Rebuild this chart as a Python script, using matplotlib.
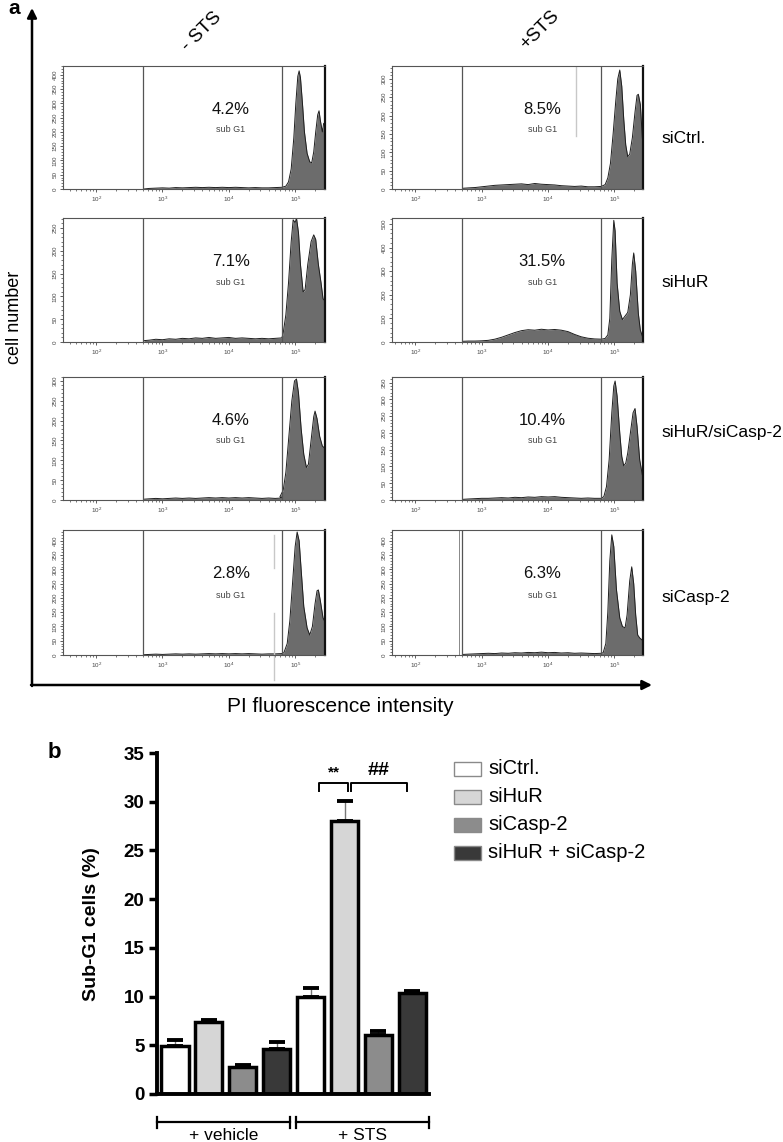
import numpy as np
import matplotlib.pyplot as plt
from matplotlib.patches import Rectangle
from matplotlib.ticker import MultipleLocator, LogLocator, NullFormatter, FixedLocator, FixedFormatter

plt.rcParams['font.family'] = ['Liberation Sans', 'DejaVu Sans']
plt.rcParams['mathtext.fontset'] = 'custom'
plt.rcParams['mathtext.rm'] = 'Liberation Sans'

W, H = 783, 1142

# ---- panel a: PI histograms (log10 intensity, cell count) ----
bg_x = [2.72, 2.8, 2.9, 3.0, 3.1, 3.2, 3.3, 3.4, 3.5, 3.6, 3.7, 3.8, 3.9, 4.0, 4.1, 4.2,
        4.3, 4.4, 4.5, 4.6, 4.7, 4.8]

ctrl_veh_bg = [0, 2, 3, 4, 3, 5, 4, 5, 6, 5, 6, 5, 6, 5, 6, 5, 4, 5, 4, 4, 5, 6]
ctrl_veh_px = [4.86, 4.9, 4.94, 4.98, 5.01, 5.04, 5.06, 5.08, 5.11, 5.14, 5.18, 5.22, 5.25,
               5.28, 5.31, 5.34, 5.36, 5.38, 5.41, 5.43, 5.45]
ctrl_veh_py = [10, 25, 70, 180, 300, 395, 414, 390, 300, 200, 125, 95, 92, 130, 200, 260,
               274, 240, 200, 230, 230]

ctrl_sts_bg = [2, 3, 4, 6, 8, 10, 11, 12, 13, 14, 12, 15, 13, 12, 11, 9, 8, 7, 8, 6, 6, 7]
ctrl_sts_px = [4.86, 4.9, 4.94, 4.98, 5.02, 5.05, 5.08, 5.11, 5.14, 5.17, 5.2, 5.23, 5.27,
               5.31, 5.34, 5.36, 5.39, 5.42, 5.43]
ctrl_sts_py = [12, 30, 70, 150, 240, 300, 324, 280, 190, 120, 88, 95, 140, 210, 255, 258,
               230, 140, 120]

hur_veh_bg = [3, 4, 6, 5, 7, 6, 8, 7, 9, 8, 10, 8, 9, 10, 8, 9, 8, 7, 8, 7, 8, 9]
hur_veh_px = [4.82, 4.86, 4.9, 4.94, 4.97, 5.0, 5.02, 5.05, 5.08, 5.12, 5.15, 5.19, 5.24,
              5.28, 5.31, 5.35, 5.39, 5.42, 5.45]
hur_veh_py = [20, 60, 130, 220, 268, 262, 272, 240, 170, 110, 115, 170, 220, 235, 225, 170,
              130, 95, 90]

hur_sts_bg = [3, 4, 4, 5, 7, 12, 20, 30, 40, 48, 52, 50, 54, 51, 53, 50, 44, 32, 22, 16, 13, 12]
hur_sts_px = [4.86, 4.9, 4.93, 4.96, 4.99, 5.01, 5.04, 5.08, 5.12, 5.16, 5.2, 5.24, 5.27,
              5.29, 5.32, 5.36, 5.39, 5.42]
hur_sts_py = [15, 30, 100, 350, 515, 470, 250, 130, 95, 110, 125, 200, 330, 377, 300, 120,
              50, 25]

hc_veh_bg = [2, 3, 4, 3, 4, 5, 4, 5, 4, 5, 6, 5, 6, 5, 6, 5, 6, 5, 4, 5, 4, 5]
hc_veh_px = [4.77, 4.82, 4.86, 4.9, 4.95, 4.99, 5.02, 5.05, 5.09, 5.13, 5.17, 5.2, 5.24,
             5.28, 5.3, 5.33, 5.37, 5.41, 5.45]
hc_veh_py = [8, 25, 70, 150, 250, 300, 305, 270, 180, 115, 82, 90, 150, 210, 224, 205,
             160, 136, 130]

hc_sts_bg = [2, 3, 4, 5, 5, 6, 7, 6, 8, 7, 9, 8, 10, 9, 10, 8, 7, 6, 5, 6, 5, 5]
hc_sts_px = [4.84, 4.88, 4.92, 4.96, 4.99, 5.01, 5.04, 5.08, 5.11, 5.14, 5.17, 5.2, 5.24,
             5.28, 5.31, 5.34, 5.38, 5.42, 5.45]
hc_sts_py = [10, 40, 120, 260, 340, 355, 310, 200, 130, 102, 110, 140, 200, 260, 273, 220,
             120, 75, 60]

casp_veh_bg = [1, 2, 3, 2, 3, 4, 3, 4, 3, 4, 5, 4, 5, 4, 5, 4, 5, 4, 3, 4, 4, 5]
casp_veh_px = [4.83, 4.88, 4.92, 4.96, 5.0, 5.03, 5.06, 5.09, 5.13, 5.18, 5.22, 5.26, 5.3,
               5.33, 5.35, 5.38, 5.42, 5.45]
casp_veh_py = [8, 40, 120, 250, 380, 431, 400, 300, 170, 95, 70, 100, 180, 225, 228, 190,
               130, 116]

casp_sts_bg = [2, 3, 4, 5, 6, 5, 7, 6, 8, 7, 9, 8, 10, 8, 9, 7, 8, 6, 7, 6, 5, 6]
casp_sts_px = [4.83, 4.87, 4.9, 4.93, 4.96, 4.99, 5.03, 5.08, 5.12, 5.16, 5.19, 5.23, 5.26,
               5.29, 5.32, 5.35, 5.38, 5.43]
casp_sts_py = [8, 40, 150, 330, 421, 380, 230, 130, 100, 95, 140, 260, 309, 250, 140, 70,
               60, 50]

row_labels = ['siCtrl.', 'siHuR', 'siHuR/siCasp-2', 'siCasp-2']
pct_veh = ['4.2%', '7.1%', '4.6%', '2.8%']
pct_sts = ['8.5%', '31.5%', '10.4%', '6.3%']
ymax_veh = [431, 272, 310, 438]
ymax_sts = [335, 525, 367, 438]
ystep_veh = [50, 50, 50, 50]
ystep_sts = [50, 100, 50, 50]
gate_lo, gate_hi = 2.71, 4.80

# ---- panel b: sub-G1 bar chart ----
groups = ['+ vehicle', '+ STS']
sirnas = ['siCtrl.', 'siHuR', 'siCasp-2', 'siHuR + siCasp-2']
vehicle_mean = [4.9, 7.4, 2.8, 4.6]
vehicle_err = [0.6, 0.2, 0.15, 0.7]
sts_mean = [10.0, 28.0, 6.1, 10.4]
sts_err = [0.9, 2.1, 0.4, 0.2]
bar_colors = ['#ffffff', '#d6d6d6', '#8c8c8c', '#393939']


def px_rect(x0, y0, x1, y1):
    return [x0 / W, 1 - y1 / H, (x1 - x0) / W, (y1 - y0) / H]


fig = plt.figure(figsize=(W / 100, H / 100), dpi=100)

# overlay in pixel coords for figure-level annotations
ov = fig.add_axes([0, 0, 1, 1])
ov.set_xlim(0, W)
ov.set_ylim(H, 0)
ov.axis('off')

hists = [
    [(ctrl_veh_bg, ctrl_veh_px, ctrl_veh_py), (ctrl_sts_bg, ctrl_sts_px, ctrl_sts_py)],
    [(hur_veh_bg, hur_veh_px, hur_veh_py), (hur_sts_bg, hur_sts_px, hur_sts_py)],
    [(hc_veh_bg, hc_veh_px, hc_veh_py), (hc_sts_bg, hc_sts_px, hc_sts_py)],
    [(casp_veh_bg, casp_veh_px, casp_veh_py), (casp_sts_bg, casp_sts_px, casp_sts_py)],
]
row_px = [(66, 189), (218, 342), (377, 500), (530, 655)]
col_px = [(63, 325), (392, 643)]
col_xlim = [(10 ** 1.5, 10 ** 5.45), (10 ** 1.65, 10 ** 5.43)]
label_yfrac = [0.41, 0.48, 0.55, 0.46]

for r in range(4):
    for c in range(2):
        bg, px, py = hists[r][c]
        x = np.power(10.0, np.array(bg_x + px))
        y = np.array(bg + py)
        ax = fig.add_axes(px_rect(col_px[c][0], row_px[r][0], col_px[c][1], row_px[r][1]))
        ax.fill_between(x, y, color='#6c6c6c', lw=0)
        ax.plot(x, y, color='#1e1e1e', lw=0.7)
        ax.set_xscale('log')
        ax.set_xlim(*col_xlim[c])
        ymax = [ymax_veh, ymax_sts][c][r]
        step = [ystep_veh, ystep_sts][c][r]
        ax.set_ylim(0, ymax)
        ax.axvline(10 ** gate_lo, color='#555555', lw=0.9)
        ax.axvline(10 ** gate_hi, color='#555555', lw=0.9)
        ax.yaxis.set_major_locator(MultipleLocator(step))
        ax.yaxis.set_minor_locator(MultipleLocator(step / 5))
        ax.xaxis.set_major_locator(FixedLocator([1e2, 1e3, 1e4, 1e5]))
        ax.xaxis.set_major_formatter(FixedFormatter(['$10^{2}$', '$10^{3}$', '$10^{4}$', '$10^{5}$']))
        ax.xaxis.set_minor_locator(LogLocator(base=10, subs=np.arange(2, 10)))
        ax.xaxis.set_minor_formatter(NullFormatter())
        ax.tick_params(axis='both', which='major', labelsize=4.5, length=2.5, width=0.6,
                       pad=1.5, colors='#444444')
        ax.tick_params(axis='both', which='minor', length=1.5, width=0.5, colors='#444444')
        for lab in ax.get_yticklabels():
            lab.set_rotation(90)
            lab.set_va('center')
        for s in ['top', 'left', 'bottom']:
            ax.spines[s].set_color('#555555')
            ax.spines[s].set_linewidth(0.8)
        ax.spines['right'].set_color('#111111')
        ax.spines['right'].set_linewidth(1.6)
        pct = [pct_veh, pct_sts][c][r]
        xt = 10 ** (4.03 if c == 0 else 3.91)
        ax.text(xt, 0.65 * ymax, pct, fontsize=12, ha='center', va='center', color='#111111')
        ax.text(xt, 0.48 * ymax, 'sub G1', fontsize=6.5, ha='center', va='center', color='#444444')
        if c == 1:
            ax.text(1.072, label_yfrac[r], row_labels[r], transform=ax.transAxes,
                    fontsize=12.5, ha='left', va='center', clip_on=False)
        # faint extra gate marks seen in a few panels
        if r == 0 and c == 1:
            ax.axvline(10 ** 4.42, ymin=0.43, ymax=1.0, color='#c8c8c8', lw=1.0)
        if r == 3 and c == 0:
            ax.axvline(10 ** 4.68, ymin=0.70, ymax=0.96, color='#c8c8c8', lw=1.0)
            ax.axvline(10 ** 4.68, ymin=-0.2, ymax=0.34, color='#c8c8c8', lw=1.0, clip_on=False)
        if r == 3 and c == 1:
            ax.axvline(10 ** 2.66, color='#888888', lw=0.7)

# big axis arrows of panel a
ov.annotate('', xy=(32, 8), xytext=(32, 686),
            arrowprops=dict(arrowstyle='-|>', lw=1.8, color='k', mutation_scale=14, shrinkA=0, shrinkB=0))
ov.annotate('', xy=(652, 685), xytext=(31, 685),
            arrowprops=dict(arrowstyle='-|>', lw=1.8, color='k', mutation_scale=14, shrinkA=0, shrinkB=0))
ov.text(8, 9, 'a', fontsize=15, fontweight='bold', ha='left', va='center')
ov.text(15, 317, 'cell number', fontsize=13, rotation=90, ha='center', va='center')
ov.text(202, 32, '- STS', fontsize=13.5, rotation=45, ha='center', va='center')
ov.text(540, 30, '+STS', fontsize=13.5, rotation=45, ha='center', va='center')
ov.text(340, 706, 'PI fluorescence intensity', fontsize=15, ha='center', va='center')
ov.text(48, 753, 'b', fontsize=16, fontweight='bold', ha='left', va='center')
ov.text(92, 924, 'Sub-G1 cells (%)', fontsize=14, fontweight='bold', rotation=90,
        ha='center', va='center')

# legend of panel b
for i, (name, col) in enumerate(zip(sirnas, bar_colors)):
    yc = 769 + 28 * i
    ov.add_patch(Rectangle((454, yc - 7), 27, 14, facecolor=col, edgecolor='#8a8a8a', lw=1))
    ov.text(488, yc, name, fontsize=14.5, ha='left', va='center')

# ---- bar chart ----
axb = fig.add_axes(px_rect(157, 753, 429, 1094))
means = vehicle_mean + sts_mean
errs = vehicle_err + sts_err
pos = np.arange(len(means))
axb.bar(pos, means, width=0.8, color=bar_colors * 2, edgecolor='k', lw=2.5, zorder=2)
eb = axb.errorbar(pos, means, yerr=[np.zeros(len(errs)), errs], fmt='none', ecolor='#777777',
                  elinewidth=1, capsize=5.5, capthick=2.8, zorder=3)
for cl in eb[1]:
    cl.set_color('k')
    cl.set_markeredgecolor('k')
    cl.set_markerfacecolor('k')
axb.set_xlim(-0.53, 7.49)
axb.set_ylim(0, 35)
axb.yaxis.set_major_locator(MultipleLocator(5))
axb.set_xticks([])
for s in ['top', 'right']:
    axb.spines[s].set_visible(False)
axb.spines['left'].set_linewidth(2.8)
axb.spines['bottom'].set_linewidth(2.8)
axb.tick_params(axis='y', length=6, width=2.5, pad=3, labelsize=13.5)
for lab in axb.get_yticklabels():
    lab.set_fontweight('bold')

# group brackets under the axis
yb = -2.9
for g, (x0, x1) in enumerate([(-0.53, 3.38), (3.57, 7.49)]):
    axb.plot([x0, x1], [yb, yb], color='k', lw=1.6, clip_on=False)
    axb.plot([x0, x0], [yb - 0.55, yb + 0.55], color='k', lw=1.6, clip_on=False)
    axb.plot([x1, x1], [yb - 0.55, yb + 0.55], color='k', lw=1.6, clip_on=False)
    axb.text((x0 + x1) / 2, -4.25, groups[g], fontsize=12.5, ha='center', va='center')

# significance brackets
for (x0, x1), mark, fs in [((4.25, 5.1), '**', 11), ((5.19, 6.84), '##', 14)]:
    axb.plot([x0, x0, x1, x1], [31.1, 31.9, 31.9, 31.1], color='k', lw=1.4, clip_on=False)
    axb.text((x0 + x1) / 2, 32.3, mark, fontsize=fs, fontweight='bold', ha='center', va='bottom')

fig.savefig('out.png', dpi=100)
